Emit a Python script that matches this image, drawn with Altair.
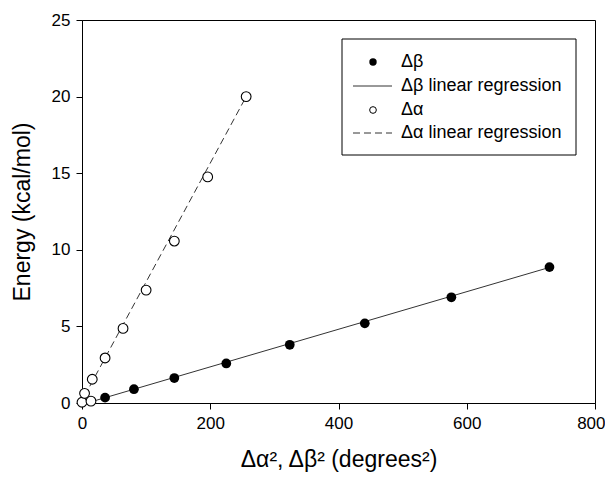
import altair as alt
import pandas as pd

# Data
beta_x = [36, 81, 144, 225, 324, 441, 576, 729]
beta_y = [0.35, 0.9, 1.63, 2.58, 3.8, 5.2, 6.9, 8.87]

alpha_x = [0, 4, 14, 16, 36, 64, 100, 144, 196, 256]
alpha_y = [0.05, 0.63, 0.12, 1.55, 2.94, 4.87, 7.37, 10.57, 14.76, 20.0]

beta_fit_x = [16, 729]
beta_fit_y = [0.10, 8.85]
alpha_fit_x = [4, 256]
alpha_fit_y = [0.46, 20.0]

x_ticks = [0, 200, 400, 600, 800]
y_ticks = [0, 5, 10, 15, 20, 25]

legend_labels = ["Δβ", "Δβ linear regression", "Δα", "Δα linear regression"]

FONT = "Liberation Sans"
W, H = 513, 383

beta_df = pd.DataFrame({"x": beta_x, "y": beta_y})
alpha_df = pd.DataFrame({"x": alpha_x, "y": alpha_y})
bfit_df = pd.DataFrame({"x": beta_fit_x, "y": beta_fit_y})
afit_df = pd.DataFrame({"x": alpha_fit_x, "y": alpha_fit_y})

xs = alt.Scale(domain=[0, 800], nice=False)
ys = alt.Scale(domain=[0, 25], nice=False)

last_x = x_ticks[-1]
xenc = alt.X("x:Q", scale=xs, axis=alt.Axis(
    values=x_ticks, title="Δα², Δβ² (degrees²)", titlePadding=17,
    labelAlign={"condition": {"test": f"datum.value == {last_x}", "value": "right"}, "value": "center"},
    labelOffset={"condition": {"test": f"datum.value == {last_x}", "value": 10}, "value": 0},
))
yenc = alt.Y("y:Q", scale=ys, axis=alt.Axis(values=y_ticks, title="Energy (kcal/mol)",
                                             titlePadding=17))

bfit = alt.Chart(bfit_df).mark_line(color="#333333", strokeWidth=1).encode(x=xenc, y=yenc)
afit = alt.Chart(afit_df).mark_line(color="#333333", strokeWidth=1, strokeDash=[7, 4]).encode(x=xenc, y=yenc)
bpts = alt.Chart(beta_df).mark_point(shape="circle", filled=True, color="black", size=95, opacity=1).encode(x=xenc, y=yenc)
apts = alt.Chart(alpha_df).mark_point(shape="circle", filled=True, fill="white", stroke="black",
                                      strokeWidth=1.1, size=95, opacity=1).encode(x=xenc, y=yenc)

one = pd.DataFrame({"a": [0]})
base = alt.Chart(one)

# Legend (decoration)
lx0, lx1, ly0, ly1 = 260, 494, 19, 135
rows = [42, 66, 90, 113]
sym_x = 291
line_x0, line_x1 = 271, 310
text_x = 319

legend_box = base.mark_rect(fill="white", stroke="black", strokeWidth=1).encode(
    x=alt.value(lx0), x2=alt.value(lx1), y=alt.value(ly0), y2=alt.value(ly1))
leg_b = base.mark_point(shape="circle", filled=True, color="black", size=55, opacity=1).encode(
    x=alt.value(sym_x), y=alt.value(rows[0]))
leg_bl = base.mark_rule(color="#333333", strokeWidth=1).encode(
    x=alt.value(line_x0), x2=alt.value(line_x1), y=alt.value(rows[1]))
leg_a = base.mark_point(shape="circle", filled=True, fill="white", stroke="black", strokeWidth=1,
                        size=45, opacity=1).encode(x=alt.value(sym_x), y=alt.value(rows[2]))
leg_al = base.mark_rule(color="#333333", strokeWidth=1, strokeDash=[7, 4]).encode(
    x=alt.value(line_x0), x2=alt.value(line_x1), y=alt.value(rows[3]))
texts = [
    base.mark_text(align="left", baseline="middle", font=FONT, fontSize=18, color="black").encode(
        x=alt.value(text_x), y=alt.value(r), text=alt.value(t))
    for t, r in zip(legend_labels, rows)
]

chart = alt.layer(bfit, afit, bpts, apts, legend_box, leg_b, leg_bl, leg_a, leg_al, *texts).properties(
    width=W, height=H,
    autosize=alt.AutoSizeParams(type="none"),
    padding={"left": 74, "top": 12, "right": 10, "bottom": 70},
).configure_view(stroke="black", strokeWidth=1).configure_axis(
    grid=False, domainColor="black", tickColor="black", tickSize=6,
    labelFont=FONT, labelFontSize=17, labelColor="black", labelFlush=False,
    titleFont=FONT, titleFontSize=23, titleColor="black", titleFontWeight="normal",
    labelPadding=6,
)

chart.save("out.html", embed_options={"renderer": "svg", "actions": False})
